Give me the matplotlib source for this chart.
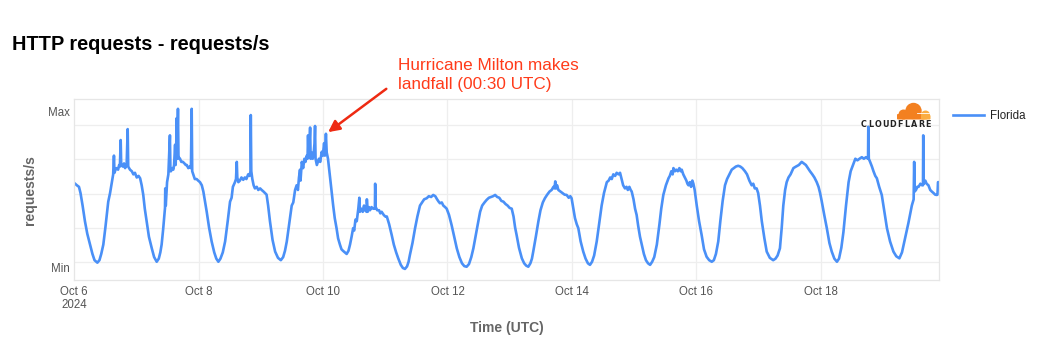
import numpy as np
import pandas as pd
import matplotlib
matplotlib.use("Agg")
import matplotlib.pyplot as plt
from matplotlib.patches import Circle, FancyBboxPatch

plt.rcParams['font.family'] = ['Liberation Sans', 'DejaVu Sans']

# Florida: (hours since 2024-10-06 00:00 UTC, requests/s scaled so Min = 0 and Max = 1)
florida = [
    (0.3, 0.54), (1.0, 0.53), (1.8, 0.52), (2.4, 0.48), (3.2, 0.40), (4.1, 0.30), (5.0, 0.22),
    (6.1, 0.15), (7.0, 0.09), (7.8, 0.05), (8.9, 0.034), (9.7, 0.05), (10.4, 0.09), (11.2, 0.15),
    (12.0, 0.26), (12.6, 0.35), (13.1, 0.425), (13.8, 0.48), (14.5, 0.55), (15.0, 0.60),
    (15.3, 0.72), (15.5, 0.61), (15.9, 0.63), (16.4, 0.64), (16.9, 0.63), (17.3, 0.66),
    (17.6, 0.65), (17.9, 0.82), (18.1, 0.66), (18.7, 0.65), (19.2, 0.67), (19.6, 0.64),
    (20.2, 0.66), (20.6, 0.89), (20.8, 0.65), (21.5, 0.63), (22.2, 0.62), (22.8, 0.60),
    (23.4, 0.61), (24.1, 0.58), (24.8, 0.59), (25.4, 0.575), (26.0, 0.53), (26.6, 0.47),
    (27.2, 0.38), (27.9, 0.30), (28.8, 0.20), (29.9, 0.126), (30.8, 0.07), (31.8, 0.04),
    (32.6, 0.06), (33.2, 0.10), (33.7, 0.15), (34.3, 0.25), (35.0, 0.385), (35.1, 0.51),
    (35.3, 0.40), (35.8, 0.55), (36.3, 0.60), (36.9, 0.85), (37.1, 0.62), (37.3, 0.62),
    (37.8, 0.64), (38.2, 0.63), (38.5, 0.66), (38.9, 0.79), (39.1, 0.66), (39.3, 0.75),
    (39.5, 0.96), (39.7, 0.70), (40.0, 1.02), (40.2, 0.72), (40.5, 0.70), (40.8, 0.70),
    (41.3, 0.68), (41.9, 0.68), (42.5, 0.67), (43.0, 0.66), (43.4, 0.66), (44.0, 0.64),
    (44.6, 0.65), (45.0, 0.64), (45.3, 1.02), (45.5, 0.62), (45.9, 0.60), (46.5, 0.57),
    (47.2, 0.57), (47.8, 0.56), (48.5, 0.55), (49.2, 0.53), (49.8, 0.49), (50.4, 0.43),
    (51.1, 0.36), (52.0, 0.26), (53.0, 0.17), (54.0, 0.10), (54.8, 0.06), (55.6, 0.04),
    (56.4, 0.06), (57.3, 0.10), (58.2, 0.17), (59.2, 0.30), (60.1, 0.425), (60.7, 0.45),
    (61.2, 0.52), (62.0, 0.55), (62.4, 0.57), (62.7, 0.68), (62.9, 0.58), (63.3, 0.55),
    (63.9, 0.56), (64.5, 0.58), (65.2, 0.565), (65.8, 0.58), (66.4, 0.57), (67.1, 0.60),
    (67.6, 0.59), (68.0, 0.62), (68.1, 0.98), (68.3, 0.62), (68.7, 0.57), (69.2, 0.53),
    (69.7, 0.51), (70.4, 0.52), (71.0, 0.50), (71.7, 0.51), (72.3, 0.50), (73.0, 0.49),
    (73.6, 0.48), (74.2, 0.47), (74.8, 0.40), (75.5, 0.30), (76.5, 0.18), (77.5, 0.105),
    (78.6, 0.065), (79.7, 0.05), (80.6, 0.07), (81.3, 0.11), (82.0, 0.17), (82.8, 0.27),
    (83.4, 0.34), (83.9, 0.40), (84.5, 0.42), (85.2, 0.50), (85.8, 0.53), (86.3, 0.50),
    (86.7, 0.58), (87.1, 0.63), (87.3, 0.56), (87.8, 0.68), (88.3, 0.64), (88.8, 0.70),
    (89.2, 0.68), (89.7, 0.72), (90.0, 0.70), (90.2, 0.85), (90.4, 0.72), (90.7, 0.78),
    (91.0, 0.90), (91.2, 0.70), (91.6, 0.74), (92.0, 0.70), (92.4, 0.74), (92.7, 0.80),
    (92.9, 0.91), (93.1, 0.70), (93.6, 0.66), (94.0, 0.68), (94.4, 0.70), (94.9, 0.68),
    (95.5, 0.745), (95.9, 0.72), (96.4, 0.80), (96.7, 0.72), (97.1, 0.86), (97.4, 0.74),
    (97.9, 0.70), (98.3, 0.64), (98.6, 0.60), (99.2, 0.50), (99.9, 0.40), (100.5, 0.32),
    (101.2, 0.255), (101.8, 0.19), (102.5, 0.15), (103.1, 0.12), (103.7, 0.11), (104.4, 0.10),
    (105.1, 0.09), (105.8, 0.11), (106.4, 0.15), (107.0, 0.20), (107.6, 0.255), (108.0, 0.24),
    (108.5, 0.31), (109.0, 0.30), (109.6, 0.38), (110.0, 0.45), (110.2, 0.36), (110.8, 0.38),
    (111.3, 0.36), (111.8, 0.40), (112.2, 0.37), (112.8, 0.36), (112.9, 0.44), (113.2, 0.36),
    (113.7, 0.39), (114.1, 0.37), (114.7, 0.39), (115.3, 0.38), (116.0, 0.38), (116.1, 0.54),
    (116.3, 0.39), (116.9, 0.37), (117.6, 0.37), (118.1, 0.35), (118.6, 0.36), (119.4, 0.34),
    (120.0, 0.33), (120.6, 0.33), (121.5, 0.28), (122.5, 0.21), (123.3, 0.15), (124.2, 0.10),
    (125.0, 0.062), (126.0, 0.02), (126.8, 0.0), (127.6, -0.006), (128.4, 0.01), (129.0, 0.04),
    (129.5, 0.083), (130.5, 0.16), (131.5, 0.255), (132.4, 0.33), (133.4, 0.40), (134.2, 0.42),
    (135.0, 0.44), (136.0, 0.447), (136.8, 0.46), (137.7, 0.455), (138.5, 0.468), (139.3, 0.46),
    (140.0, 0.44), (140.6, 0.425), (141.1, 0.415), (141.8, 0.42), (142.4, 0.40), (143.1, 0.39),
    (143.7, 0.38), (144.6, 0.34), (145.6, 0.275), (146.6, 0.20), (147.6, 0.126), (148.6, 0.07),
    (149.6, 0.03), (150.5, 0.012), (151.4, 0.008), (152.3, 0.025), (153.2, 0.07), (154.0, 0.126),
    (154.8, 0.20), (155.7, 0.28), (156.6, 0.36), (157.4, 0.40), (158.3, 0.42), (159.1, 0.436),
    (160.0, 0.45), (160.8, 0.455), (161.6, 0.46), (162.4, 0.468), (163.2, 0.455), (164.0, 0.45),
    (164.8, 0.43), (165.6, 0.425), (166.4, 0.41), (167.2, 0.40), (168.0, 0.385), (168.8, 0.38),
    (169.5, 0.33), (170.1, 0.26), (170.7, 0.21), (171.6, 0.13), (172.7, 0.062), (173.6, 0.03),
    (174.4, 0.015), (175.2, 0.008), (176.0, 0.03), (176.6, 0.06), (177.1, 0.105), (178.1, 0.20),
    (179.1, 0.30), (179.9, 0.37), (180.8, 0.42), (181.6, 0.447), (182.5, 0.47), (183.4, 0.49),
    (184.2, 0.50), (184.9, 0.52), (185.3, 0.51), (185.6, 0.555), (185.9, 0.51), (186.3, 0.53),
    (186.8, 0.50), (187.6, 0.49), (188.4, 0.48), (189.2, 0.47), (190.0, 0.468), (190.8, 0.45),
    (191.4, 0.46), (191.9, 0.447), (192.6, 0.38), (193.2, 0.32), (193.9, 0.28), (194.5, 0.255),
    (195.4, 0.17), (196.4, 0.105), (197.3, 0.06), (198.2, 0.03), (199.0, 0.02), (199.8, 0.04),
    (200.6, 0.08), (201.6, 0.17), (202.6, 0.29), (203.5, 0.40), (204.4, 0.48), (205.5, 0.55),
    (206.2, 0.56), (206.8, 0.58), (207.4, 0.57), (208.0, 0.60), (208.7, 0.59), (209.3, 0.61),
    (210.0, 0.60), (210.6, 0.61), (211.2, 0.57), (211.8, 0.53), (212.5, 0.51), (213.1, 0.52),
    (213.6, 0.50), (214.2, 0.52), (214.7, 0.50), (215.1, 0.49), (215.8, 0.44), (216.4, 0.38),
    (217.0, 0.34), (217.6, 0.27), (218.3, 0.20), (219.0, 0.15), (219.8, 0.09), (220.6, 0.05),
    (221.4, 0.03), (222.2, 0.02), (223.0, 0.04), (223.8, 0.07), (224.8, 0.15), (225.8, 0.28),
    (226.5, 0.38), (227.3, 0.468), (228.3, 0.53), (229.3, 0.575), (229.8, 0.59), (230.4, 0.62),
    (230.9, 0.60), (231.2, 0.64), (231.8, 0.62), (232.3, 0.63), (232.9, 0.62), (233.5, 0.64),
    (234.0, 0.62), (234.4, 0.63), (235.0, 0.60), (235.6, 0.58), (236.2, 0.56), (236.6, 0.54),
    (237.0, 0.53), (237.5, 0.55), (238.0, 0.52), (238.5, 0.56), (238.9, 0.54), (239.4, 0.50),
    (240.2, 0.40), (241.1, 0.30), (242.1, 0.21), (243.0, 0.12), (244.0, 0.072), (245.0, 0.05),
    (246.0, 0.04), (246.8, 0.05), (247.6, 0.09), (248.5, 0.17), (249.3, 0.30), (250.2, 0.43),
    (251.1, 0.53), (251.9, 0.57), (252.8, 0.60), (253.7, 0.63), (254.5, 0.64), (255.3, 0.65),
    (256.2, 0.655), (257.0, 0.65), (257.8, 0.64), (258.8, 0.62), (259.6, 0.60), (260.5, 0.56),
    (261.4, 0.53), (262.0, 0.54), (262.6, 0.51), (263.3, 0.51), (263.9, 0.48), (264.6, 0.40),
    (265.3, 0.30), (266.3, 0.19), (267.2, 0.105), (268.4, 0.065), (269.7, 0.05), (270.6, 0.06),
    (271.4, 0.08), (272.3, 0.126), (273.0, 0.26), (273.6, 0.40), (274.3, 0.50), (274.9, 0.55),
    (275.6, 0.58), (276.4, 0.60), (277.5, 0.64), (278.5, 0.65), (279.6, 0.66), (280.7, 0.68),
    (281.5, 0.67), (282.3, 0.66), (283.1, 0.64), (283.9, 0.62), (284.8, 0.60), (285.6, 0.58),
    (286.5, 0.55), (287.2, 0.52), (287.8, 0.48), (288.4, 0.43), (289.4, 0.34), (290.4, 0.255),
    (291.4, 0.16), (292.3, 0.105), (293.3, 0.06), (294.3, 0.04), (295.1, 0.06), (296.0, 0.13),
    (296.8, 0.23), (297.8, 0.40), (298.8, 0.55), (299.6, 0.62), (300.5, 0.66), (301.4, 0.70),
    (302.2, 0.69), (303.0, 0.70), (303.9, 0.71), (304.7, 0.70), (305.5, 0.71), (306.3, 0.70),
    (306.4, 0.905), (306.6, 0.70), (307.1, 0.68), (307.8, 0.65), (308.4, 0.62), (309.1, 0.59),
    (309.7, 0.575), (310.6, 0.52), (311.6, 0.468), (312.6, 0.36), (313.6, 0.255), (314.8, 0.17),
    (316.1, 0.105), (317.2, 0.075), (318.4, 0.062), (319.4, 0.10), (320.6, 0.19), (321.9, 0.29),
    (323.2, 0.40), (323.9, 0.44), (324.1, 0.68), (324.3, 0.49), (324.8, 0.50), (325.3, 0.52),
    (325.8, 0.52), (326.5, 0.54), (327.1, 0.53), (327.5, 0.53), (327.6, 0.85), (327.8, 0.54),
    (328.4, 0.56), (328.9, 0.54), (329.6, 0.53), (330.3, 0.50), (330.9, 0.49), (331.6, 0.48),
    (332.2, 0.47), (332.8, 0.468), (333.1, 0.47), (333.3, 0.55), (333.5, 0.55),
]
hours = [h for h, v in florida]
values = [v for h, v in florida]

tick_labels = ["Oct 6\n2024", "Oct 8", "Oct 10", "Oct 12", "Oct 14", "Oct 16", "Oct 18"]
grid_levels = [0.0365, 0.254, 0.476, 0.697, 0.917]
landfall_hour = 97.1

start = pd.Timestamp("2024-10-06 00:00")
times = start + pd.to_timedelta(hours, unit="h")
tick_days = pd.date_range("2024-10-06", "2024-10-18", freq="2D")

fig = plt.figure(figsize=(10.4, 3.6), dpi=100)
ax = fig.add_axes([74.3 / 1040, 1 - 280 / 360, 865 / 1040, 180.7 / 360])

ax.plot(times, values, color="#4a90f7", lw=1.9, label="Florida", solid_joinstyle="round")

ax.set_xlim(start, start + pd.Timedelta(hours=333.8))
ax.set_ylim(-0.077, 1.081)

ax.set_xticks(tick_days)
ax.set_xticklabels(tick_labels, ha="center", color="#555555", fontsize=8.3)
ax.set_yticks([0, 1])
ax.set_yticklabels(["Min", "Max"], color="#555555", fontsize=8.3)
ax.tick_params(axis="both", which="both", length=0, pad=4)
ax.tick_params(axis="y", pad=3)
ax.grid(False)
for lv in grid_levels:
    ax.axhline(lv, color="#eeeeee", lw=0.9, zorder=0)
for d in tick_days[1:]:
    ax.axvline(d, color="#eeeeee", lw=0.9, zorder=0)
for s in ax.spines.values():
    s.set_color("#e6e6e6")
    s.set_linewidth(0.9)

ax.set_xlabel("Time (UTC)", fontsize=10, fontweight="bold", color="#666666", labelpad=7)
ax.set_ylabel("requests/s", fontsize=10, fontweight="bold", color="#666666", labelpad=8)

fig.text(12 / 1040, 1 - 45 / 360, "HTTP requests - requests/s", fontsize=14.3,
         fontweight="bold", color="black", va="center", ha="left")

# landfall annotation
peak_i = hours.index(landfall_hour)
ax.annotate("Hurricane Milton makes\nlandfall (00:30 UTC)",
            xy=(times[peak_i], values[peak_i]), xycoords="data",
            xytext=(398 / 1040, 1 - 75 / 360), textcoords="figure fraction",
            fontsize=12.3, color="#ff3b1a", ha="left", va="center", linespacing=1.35,
            arrowprops=dict(arrowstyle="-|>", color="#ee2a12", lw=1.8,
                            mutation_scale=17, shrinkA=8, shrinkB=2,
                            relpos=(0, 0.35)))

leg = ax.legend(loc="upper left", bbox_to_anchor=(953 / 1040, 1 - 110 / 360),
                bbox_transform=fig.transFigure, frameon=False, fontsize=8.3,
                handlelength=2.7, handletextpad=0.5, borderpad=0, borderaxespad=0)
for t in leg.get_texts():
    t.set_color("#222222")

# Cloudflare logo, drawn in pixel space
ov = fig.add_axes([0, 0, 1, 1], zorder=5)
ov.set_xlim(0, 1040)
ov.set_ylim(360, 0)
ov.axis("off")
ov.add_patch(Circle((913.5, 111.0), 8.2, color="#f38020", lw=0))
ov.add_patch(Circle((903.5, 114.5), 5.0, color="#f38020", lw=0))
ov.add_patch(FancyBboxPatch((897, 114), 28, 5.5, boxstyle="round,pad=0,rounding_size=1",
                            color="#f38020", lw=0))
ov.add_patch(Circle((925.5, 115.0), 4.5, color="#fbad41", lw=0))
ov.add_patch(FancyBboxPatch((921, 115.0), 9.5, 4.5, boxstyle="round,pad=0,rounding_size=1",
                            color="#fbad41", lw=0))
ov.plot([917, 929], [113.0, 113.0], color="white", lw=0.6)
for i, ch in enumerate("CLOUDFLARE"):
    ov.text(863.5 + i * 7.2, 124.5, ch, fontsize=5.8, fontweight="bold",
            color="#222222", ha="center", va="center", family="DejaVu Sans")

fig.savefig("out.png", dpi=100)
